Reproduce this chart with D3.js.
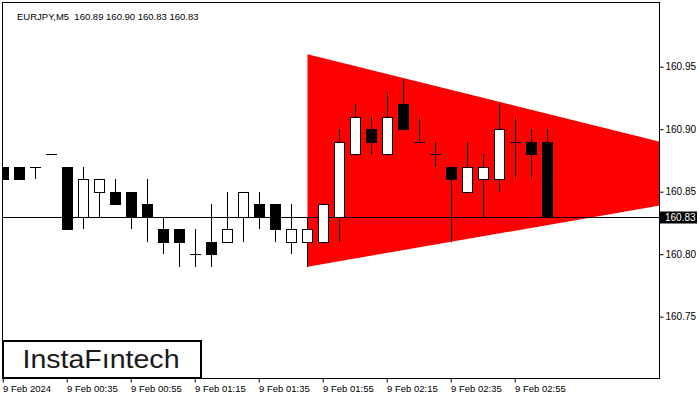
<!DOCTYPE html>
<html>
<head>
<meta charset="utf-8">
<script src="https://cdn.jsdelivr.net/npm/d3@7"></script>
<style>
  html, body { margin: 0; padding: 0; background: #fff; }
  svg { display: block; }
  text { font-family: "Liberation Sans", Arial, sans-serif; }
</style>
</head>
<body>
<svg id="chart" width="700" height="400"></svg>
<script>
// ---- data ----
const symbol = "EURJPY,M5";
const headerValues = ["160.89", "160.90", "160.83", "160.83"];
const barIndex = d3.range(35); // 5-minute bars from 00:15 to 03:05
const open  = [160.87,160.87,160.87,160.88,160.87,160.83,160.85,160.85,160.85,160.84,160.82,160.82,160.80,160.81,160.81,160.83,160.84,160.84,160.81,160.81,160.81,160.83,160.88,160.90,160.88,160.92,160.89,160.88,160.87,160.85,160.86,160.86,160.89,160.89,160.89];
const high  = [160.87,160.87,160.87,160.88,160.87,160.87,160.86,160.86,160.85,160.86,160.83,160.82,160.82,160.84,160.85,160.85,160.85,160.84,160.84,160.83,160.84,160.90,160.92,160.91,160.93,160.94,160.91,160.89,160.87,160.89,160.88,160.92,160.91,160.90,160.90];
const low   = [160.86,160.86,160.86,160.88,160.82,160.82,160.83,160.84,160.82,160.81,160.80,160.79,160.79,160.79,160.81,160.81,160.82,160.81,160.80,160.79,160.81,160.81,160.88,160.88,160.88,160.90,160.89,160.87,160.81,160.85,160.83,160.85,160.86,160.86,160.83];
const close = [160.86,160.86,160.87,160.88,160.82,160.86,160.86,160.84,160.83,160.83,160.81,160.81,160.80,160.80,160.82,160.85,160.83,160.82,160.82,160.82,160.84,160.89,160.91,160.89,160.91,160.90,160.89,160.88,160.86,160.87,160.87,160.90,160.89,160.88,160.83];
const xTickIndex = [0, 4, 8, 12, 16, 20, 24, 28, 32];
const xTickLabels = ["9 Feb 2024","9 Feb 00:35","9 Feb 00:55","9 Feb 01:15","9 Feb 01:35","9 Feb 01:55","9 Feb 02:15","9 Feb 02:35","9 Feb 02:55"];
const yTicks = [160.75, 160.80, 160.85, 160.90, 160.95];
const currentPrice = 160.83;
const triangleIndex = [19, 50.5, 19];
const trianglePrice = [160.96, 160.86, 160.79];
const logoText = "InstaFıntech";

// ---- layout ----
const svg = d3.select("#chart");
const L = 2.5, R = 659.5, T = 2.5, B = 378.5;

const x = d3.scaleLinear().domain([0, 1]).range([3.5, 19.5]);
const y = d3.scaleLinear().domain([160.70, 161.00]).range([379.2, 4.2]);

svg.append("rect").attr("width", 700).attr("height", 400).attr("fill", "#fff");

svg.append("defs").append("clipPath").attr("id", "plot")
  .append("rect").attr("x", L).attr("y", T).attr("width", R - L).attr("height", B - T);

const plot = svg.append("g").attr("clip-path", "url(#plot)");

// triangle pattern
const triPts = triangleIndex.map((k, i) => [x(k), y(trianglePrice[i])]);
plot.append("path")
  .attr("d", d3.line()(triPts) + "Z")
  .attr("fill", "#ff0000");

// current price line
plot.append("line")
  .attr("x1", L).attr("x2", R)
  .attr("y1", Math.round(y(currentPrice)) + 0.5).attr("y2", Math.round(y(currentPrice)) + 0.5)
  .attr("stroke", "#000").attr("stroke-width", 1);

// candles
const px = v => Math.round(y(v));
const candles = plot.append("g");
barIndex.forEach(i => {
  const cx = x(i);
  const g = candles.append("g");
  const o = open[i], c = close[i];
  const top = Math.max(o, c), bot = Math.min(o, c);
  // upper wick
  if (high[i] > top) g.append("line").attr("x1", cx).attr("x2", cx)
      .attr("y1", px(high[i])).attr("y2", px(top)).attr("stroke", "#000");
  if (low[i] < bot) g.append("line").attr("x1", cx).attr("x2", cx)
      .attr("y1", px(bot)).attr("y2", px(low[i])).attr("stroke", "#000");
  if (o === c) {
    g.append("line").attr("x1", cx - 5.5).attr("x2", cx + 5.5)
      .attr("y1", px(o) + 0.5).attr("y2", px(o) + 0.5).attr("stroke", "#000");
  } else {
    g.append("rect")
      .attr("x", cx - 5).attr("width", 10)
      .attr("y", px(top) + 0.5).attr("height", px(bot) - px(top))
      .attr("fill", c > o ? "#fff" : "#000")
      .attr("stroke", "#000").attr("stroke-width", 1);
  }
});

// frame
svg.append("rect").attr("x", L).attr("y", T).attr("width", R - L).attr("height", B - T)
  .attr("fill", "none").attr("stroke", "#000").attr("stroke-width", 1);

// y axis (right)
const yAxis = svg.append("g").attr("transform", `translate(${R},0)`)
  .call(d3.axisRight(y).tickValues(yTicks).tickSize(4).tickPadding(2).tickFormat(d3.format(".2f")));
yAxis.select(".domain").remove();
yAxis.selectAll("text").attr("font-size", "10px").attr("font-family", "Liberation Sans, Arial, sans-serif").attr("fill", "#000");
yAxis.selectAll("line").attr("stroke", "#000");

// x axis (bottom)
const xAxis = svg.append("g").attr("transform", `translate(0,${B})`)
  .call(d3.axisBottom(x).tickValues(xTickIndex).tickSize(4).tickPadding(3)
    .tickFormat((d, i) => xTickLabels[i]));
xAxis.select(".domain").remove();
xAxis.selectAll("line").attr("stroke", "#000").attr("transform", "translate(-0.8,0)");
xAxis.selectAll("text").attr("text-anchor", "start").attr("dx", "-1")
  .attr("font-size", "9.5px").attr("font-family", "Liberation Sans, Arial, sans-serif").attr("fill", "#000");

// current price label
const cpY = Math.round(y(currentPrice)) + 0.5;
svg.append("rect").attr("x", 660).attr("y", cpY - 6).attr("width", 37).attr("height", 12).attr("fill", "#000");
svg.append("text").attr("x", 665).attr("y", cpY + 3.6).attr("fill", "#fff")
  .attr("font-size", "10px").text(d3.format(".2f")(currentPrice));

// header
svg.append("text").attr("x", 17).attr("y", 19.5).attr("font-size", "9.5px").attr("fill", "#000")
  .attr("xml:space", "preserve")
  .text(symbol + "  " + headerValues.join(" "));

// logo
svg.append("rect").attr("x", 3).attr("y", 341).attr("width", 198).attr("height", 37)
  .attr("fill", "#fff").attr("stroke", "#000").attr("stroke-width", 2);
svg.append("text").attr("x", 22.5).attr("y", 368).attr("font-size", "25px")
  .attr("font-family", "Inter, 'Noto Sans', sans-serif").attr("font-weight", 500)
  .attr("fill", "#1a1a1a").attr("textLength", 157).attr("lengthAdjust", "spacingAndGlyphs")
  .text(logoText);
</script>
</body>
</html>
